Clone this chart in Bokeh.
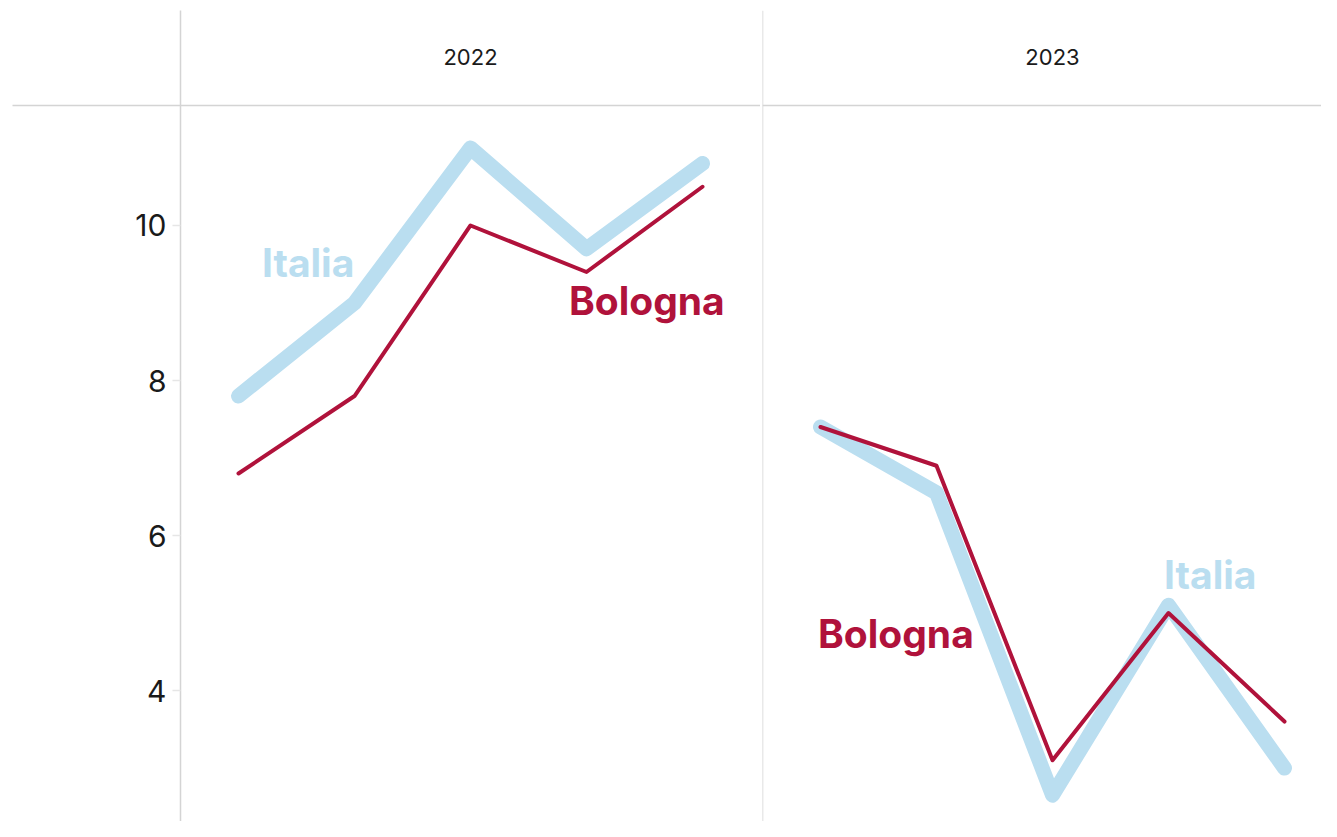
from bokeh.plotting import figure
from bokeh.layouts import row
from bokeh.models import Range1d, FixedTicker, Span, ColumnDataSource
from bokeh.core.properties import value
from bokeh.embed import file_html
from bokeh.resources import INLINE

# ---------------- data ----------------
periods = [1, 2, 3, 4, 5]
years = ["2022", "2023"]
italia_2022 = [7.8, 9.0, 11.0, 9.7, 10.8]
bologna_2022 = [6.8, 7.8, 10.0, 9.4, 10.5]
italia_2023 = [7.4, 6.55, 2.65, 5.1, 3.0]
bologna_2023 = [7.4, 6.9, 3.1, 5.0, 3.6]
y_ticks = [4, 6, 8, 10]
series_names = ["Italia", "Bologna"]

# ---------------- style ----------------
FONT = "Inter"
ITALIA_COLOR = "#badef0"
BOLOGNA_COLOR = "#b0123b"
GRID = "#d4d4d4"
TEXT = "#1a1a1a"

PX_PER_X = 116.0
Y_MIN, Y_MAX = 2.310, 12.774
HEADER_LINE_Y = 11.548
HEADER_TEXT_Y = 12.168
FRAME_H = 811
TOP_BORDER = 10

# label placements (layout only): (x, y) per series name
label_pos = {
    "2022": {"Italia": (1.60, 9.52), "Bologna": (4.52, 9.03)},
    "2023": {"Italia": (4.36, 5.50), "Bologna": (1.65, 4.74)},
}


def make_panel(year, italia, bologna, frame_w, left_border, with_axis):
    p = figure(
        frame_width=frame_w, frame_height=FRAME_H,
        x_range=Range1d(0.5, 0.5 + frame_w / PX_PER_X),
        y_range=Range1d(Y_MIN, Y_MAX),
        x_axis_location=None,
        y_axis_location="left" if with_axis else None,
        output_backend="svg", toolbar_location=None,
        min_border_left=left_border, min_border_right=0,
        min_border_top=TOP_BORDER, min_border_bottom=0,
        outline_line_color=None,
        background_fill_color="white", border_fill_color="white",
    )
    p.xgrid.visible = False
    p.ygrid.visible = False

    if with_axis:
        ax = p.yaxis[0]
        # minor tick used to extend the header rule across the label gutter
        ax.ticker = FixedTicker(ticks=y_ticks, minor_ticks=[HEADER_LINE_Y])
        ax.axis_line_color = GRID
        ax.axis_line_width = 1.5
        ax.major_tick_in = 0
        ax.major_tick_out = 8
        ax.major_tick_line_color = "#e6e6e6"
        ax.major_tick_line_width = 1.5
        ax.minor_tick_in = 0
        ax.minor_tick_out = left_border - 12
        ax.minor_tick_line_color = GRID
        ax.minor_tick_line_width = 1.5
        ax.major_label_text_font = FONT
        ax.major_label_text_font_size = "30px"
        ax.major_label_text_color = TEXT
        ax.major_label_standoff = -(left_border - 12) + 14
    else:
        p.add_layout(Span(location=0.5, dimension="height",
                          line_color=GRID, line_width=1.5))

    p.add_layout(Span(location=HEADER_LINE_Y, dimension="width",
                      line_color=GRID, line_width=1.5))

    p.text(x=[periods[len(periods) // 2]], y=[HEADER_TEXT_Y], text=[year],
           text_font=value(FONT), text_font_size="22px", text_color=TEXT,
           text_align="center", text_baseline="middle")

    p.line(periods, italia, line_width=15, line_color=ITALIA_COLOR,
           line_cap="round", line_join="round")
    p.line(periods, bologna, line_width=4, line_color=BOLOGNA_COLOR,
           line_cap="round", line_join="round")

    colors = {"Italia": ITALIA_COLOR, "Bologna": BOLOGNA_COLOR}
    src = ColumnDataSource(dict(
        x=[label_pos[year][n][0] for n in series_names],
        y=[label_pos[year][n][1] for n in series_names],
        t=series_names,
        c=[colors[n] for n in series_names],
    ))
    p.text(x="x", y="y", text="t", text_color="c", source=src,
           text_font=value(FONT), text_font_style="bold",
           text_font_size="39px", text_align="center",
           text_baseline="middle")
    return p


p1 = make_panel(years[0], italia_2022, bologna_2022, 580, 180, True)
p2 = make_panel(years[1], italia_2023, bologna_2023, 559, 2, False)

layout = row(p1, p2, spacing=0)

with open("out.html", "w") as f:
    f.write(file_html(layout, INLINE))
